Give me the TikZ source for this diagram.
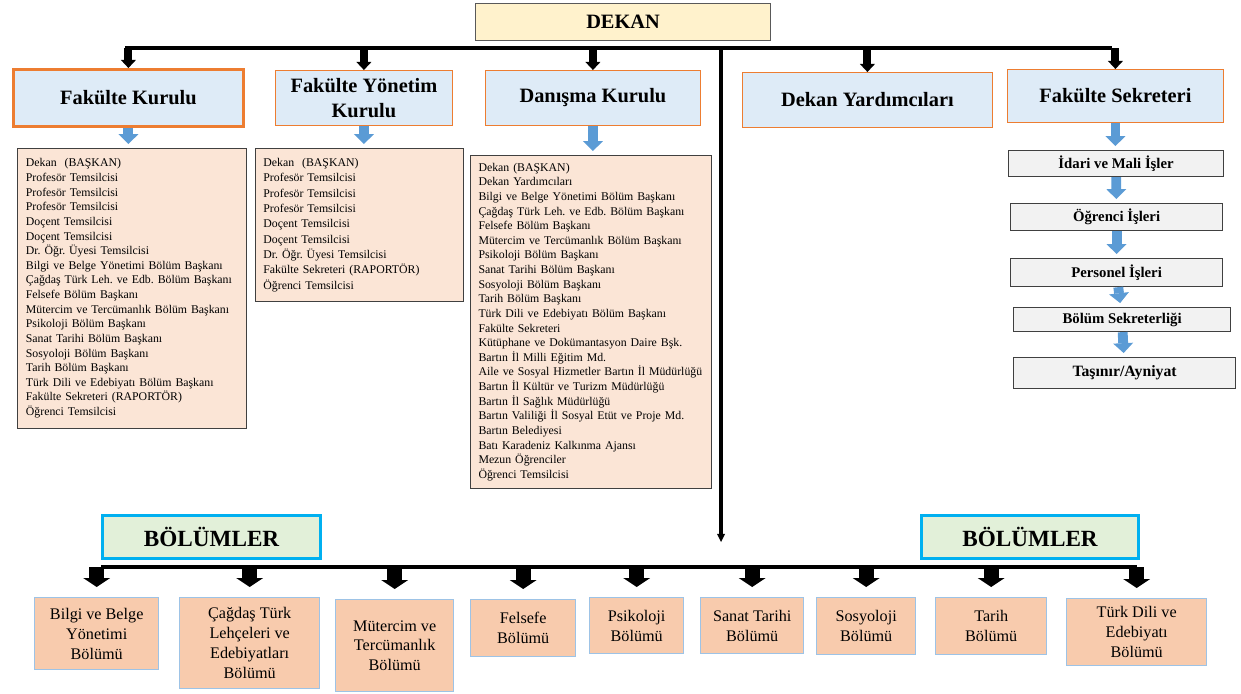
\documentclass[tikz,border=0pt]{standalone}
\usepackage{fontspec}
\setmainfont{Liberation Serif}
\usetikzlibrary{arrows.meta,positioning}
\definecolor{dekangelb}{HTML}{FFF2CC}
\definecolor{kopfblau}{HTML}{DEEBF7}
\definecolor{kopfrand}{HTML}{ED7D31}
\definecolor{listerosa}{HTML}{FBE5D6}
\definecolor{pfeilblau}{HTML}{5B9BD5}
\definecolor{bolumgrun}{HTML}{E2F0D9}
\definecolor{bolumrand}{HTML}{00B0F0}
\definecolor{kutusomon}{HTML}{F8CBAD}
\definecolor{kuturand}{HTML}{9DC3E6}
\frenchspacing
\hyphenpenalty=10000

\begin{document}
\begin{tikzpicture}[
    x=0.025cm, y=-0.025cm,
    wh/.style 2 args={minimum width=#1*0.025cm, minimum height=#2*0.025cm, anchor=north west},
    dekan/.style={draw=black!65, line width=0.8pt, fill=dekangelb,
                  font=\fontsize{14.5}{17}\selectfont\bfseries},
    kopf/.style={draw=kopfrand, line width=0.6pt, fill=kopfblau, inner sep=2pt,
                 align=center, font=\fontsize{14.5}{17.5}\selectfont\bfseries},
    liste/.style={draw=black!75, line width=0.6pt, fill=listerosa, inner xsep=0.2cm,
                  inner ysep=2pt, align=left, font=\fontsize{8.4}{10.4}\selectfont},
    birim/.style={draw=black!75, line width=0.8pt, fill=black!5, inner sep=1pt,
                  font=\fontsize{10.5}{12}\selectfont\bfseries},
    bolumler/.style={draw=bolumrand, line width=2.2pt, fill=bolumgrun,
                     font=\fontsize{16.5}{19}\selectfont\bfseries},
    bolum/.style={draw=kuturand, line width=1pt, fill=kutusomon, inner sep=1pt,
                  align=center, font=\fontsize{11.5}{14.2}\selectfont},
    balken/.style={line width=2.2pt},
    siyahok/.style={line width=5.7pt, -{Triangle[width=10.7pt,length=5.7pt,line width=0pt]}},
    maviok/.style={pfeilblau, line width=7pt, shorten >=0.1cm,
                   -{Triangle[width=14.2pt,length=7pt,line width=0pt]}},
    altok/.style={line width=10.7pt, shorten >=0.25cm,
                  -{Triangle[width=19.2pt,length=6.4pt,line width=0pt]}},
    inceok/.style={line width=2.2pt, -{Triangle[width=5.7pt,length=5.7pt,line width=0pt]}}
]
\fill[white] (0,0) rectangle (1241,693);

\node[dekan, wh={295}{37}] (dekan) at (475,3) {DEKAN};

\node[kopf, wh={230}{57}, line width=2pt] (fk) at (12,68) {Fakülte Kurulu};
\node[kopf, wh={177}{55}] (fyk) at (275,70) {Fakülte Yönetim\\Kurulu};
\node[kopf, wh={215}{55}] (dk) at (485,70) {Danışma Kurulu};
\node[kopf, wh={250}{55}] (dy) at (742,72) {Dekan Yardımcıları};
\node[kopf, wh={216}{53}] (fs) at (1007,69) {Fakülte Sekreteri};

\coordinate (ustbalken) at (125,48);
\coordinate (ustbalkensag) at (1112,48);
\coordinate (bolumuc) at (721,542);
\draw[balken] (ustbalken) -- (ustbalkensag);
\foreach \k in {fk,fyk,dk,dy,fs}
    \draw[siyahok] (ustbalken -| \k.north) -- (\k.north);
\draw[inceok] (ustbalken -| bolumuc) -- (bolumuc);

\node[liste, wh={229}{280}, text width=5.3cm] (fkl) at (17,148)
    {Dekan\ \ (BAŞKAN)\\
     Profesör Temsilcisi\\
     Profesör Temsilcisi\\
     Profesör Temsilcisi\\
     Doçent Temsilcisi\\
     Doçent Temsilcisi\\
     Dr. Öğr. Üyesi Temsilcisi\\
     Bilgi ve Belge Yönetimi Bölüm Başkanı\\
     Çağdaş Türk Leh. ve Edb. Bölüm Başkanı\\
     Felsefe Bölüm Başkanı\\
     Mütercim ve Tercümanlık Bölüm Başkanı\\
     Psikoloji Bölüm Başkanı\\
     Sanat Tarihi Bölüm Başkanı\\
     Sosyoloji Bölüm Başkanı\\
     Tarih Bölüm Başkanı\\
     Türk Dili ve Edebiyatı Bölüm Başkanı\\
     Fakülte Sekreteri (RAPORTÖR)\\
     Öğrenci Temsilcisi};
\node[liste, wh={208}{153}, text width=4.8cm, font=\fontsize{8.4}{10.9}\selectfont] (fykl) at (255,148)
    {Dekan\ \ (BAŞKAN)\\
     Profesör Temsilcisi\\
     Profesör Temsilcisi\\
     Profesör Temsilcisi\\
     Doçent Temsilcisi\\
     Doçent Temsilcisi\\
     Dr. Öğr. Üyesi Temsilcisi\\
     Fakülte Sekreteri (RAPORTÖR)\\
     Öğrenci Temsilcisi};
\node[liste, wh={241}{333}, text width=5.62cm] (dkl) at (470,155)
    {Dekan (BAŞKAN)\\
     Dekan Yardımcıları\\
     Bilgi ve Belge Yönetimi Bölüm Başkanı\\
     Çağdaş Türk Leh. ve Edb. Bölüm Başkanı\\
     Felsefe Bölüm Başkanı\\
     Mütercim ve Tercümanlık Bölüm Başkanı\\
     Psikoloji Bölüm Başkanı\\
     Sanat Tarihi Bölüm Başkanı\\
     Sosyoloji Bölüm Başkanı\\
     Tarih Bölüm Başkanı\\
     Türk Dili ve Edebiyatı Bölüm Başkanı\\
     Fakülte Sekreteri\\
     Kütüphane ve Dokümantasyon Daire Bşk.\\
     Bartın İl Milli Eğitim Md.\\
     Aile ve Sosyal Hizmetler Bartın İl Müdürlüğü\\
     Bartın İl Kültür ve Turizm Müdürlüğü\\
     Bartın İl Sağlık Müdürlüğü\\
     Bartın Valiliği İl Sosyal Etüt ve Proje Md.\\
     Bartın Belediyesi\\
     Batı Karadeniz Kalkınma Ajansı\\
     Mezun Öğrenciler\\
     Öğrenci Temsilcisi};

\draw[maviok] (fk.south) -- (fk.south |- fkl.north);
\draw[maviok] (fyk.south) -- (fyk.south |- fykl.north);
\draw[maviok] (dk.south) -- (dk.south |- dkl.north);

\node[birim, wh={215}{26}] (idari) at (1008,150) {İdari ve Mali İşler};
\node[birim, wh={212}{27}] (ogrenci) at (1010,203) {Öğrenci İşleri};
\node[birim, wh={212}{28}] (personel) at (1010,258) {Personel İşleri};
\node[birim, wh={217}{24}] (sekreterlik) at (1013,307) {Bölüm Sekreterliği};
\node[birim, wh={222}{31}, font=\fontsize{11.2}{13}\selectfont\bfseries] (tasinir) at (1013,357) {Taşınır/Ayniyat};

\draw[maviok] (fs.south) -- (fs.south |- idari.north);
\draw[maviok] (idari) -- (ogrenci);
\draw[maviok] (ogrenci) -- (personel);
\draw[maviok] (personel) -- (sekreterlik);
\draw[maviok] (sekreterlik) -- (tasinir);

\node[bolumler, wh={218}{43}] (bolsol) at (101,514) {BÖLÜMLER};
\node[bolumler, wh={217}{43}] (bolsag) at (920,514) {BÖLÜMLER};

\coordinate (altbalken) at (101,567);
\coordinate (altbalkensag) at (1137,567);
\draw[balken] (altbalken) -- (altbalkensag);

\node[bolum, wh={124}{72}] (b1) at (34,597) {Bilgi ve Belge\\Yönetimi\\Bölümü};
\node[bolum, wh={140}{91}] (b2) at (179,597) {Çağdaş Türk\\Lehçeleri ve\\Edebiyatları\\Bölümü};
\node[bolum, wh={118}{92}] (b3) at (335,599) {Mütercim ve\\Tercümanlık\\Bölümü};
\node[bolum, wh={105}{57}] (b4) at (470,599) {Felsefe\\Bölümü};
\node[bolum, wh={94}{56}] (b5) at (589,597) {Psikoloji\\Bölümü};
\node[bolum, wh={103}{56}] (b6) at (700,597) {Sanat Tarihi\\Bölümü};
\node[bolum, wh={99}{57}] (b7) at (816,597) {Sosyoloji\\Bölümü};
\node[bolum, wh={111}{57}] (b8) at (935,597) {Tarih\\Bölümü};
\node[bolum, wh={140}{67}] (b9) at (1066,598) {Türk Dili ve\\Edebiyatı\\Bölümü};

\foreach \b in {b1,b2,b3,b4,b5,b6,b7,b8,b9}
    \draw[altok] (altbalken -| \b.north) -- (\b.north);
\end{tikzpicture}
\end{document}
